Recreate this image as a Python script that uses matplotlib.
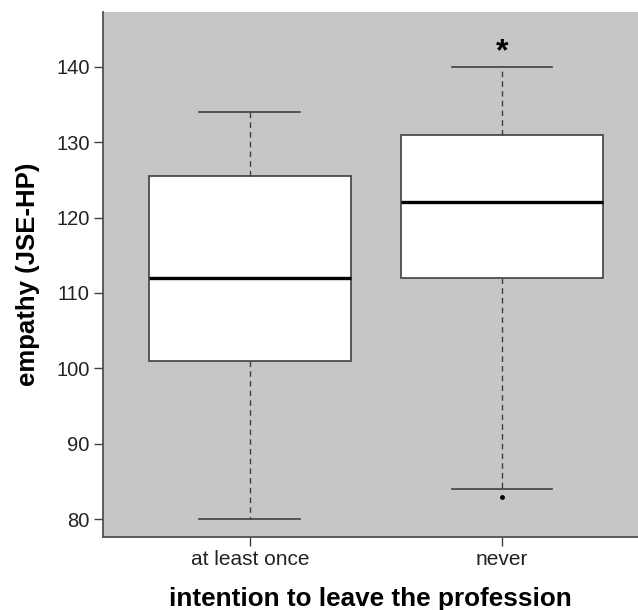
import matplotlib
matplotlib.use('Agg')
import matplotlib.pyplot as plt

# box summary values
groups = ['at least once', 'never']
whisker_low = [80, 84]
q1 = [101, 112]
median = [112, 122]
q3 = [125.5, 131]
whisker_high = [134, 140]
outliers = [[], [83]]
star_group = 2
star_y = 141.9

plt.rcParams['font.family'] = ['Liberation Sans', 'DejaVu Sans']

fig = plt.figure(figsize=(6.38, 6.10), dpi=100)
ax = fig.add_axes([0.1614, 0.1197, 0.8386, 0.8606])
ax.set_facecolor('#c6c6c6')

stats = []
for i, name in enumerate(groups):
    stats.append(dict(label=name, whislo=whisker_low[i], q1=q1[i], med=median[i],
                      q3=q3[i], whishi=whisker_high[i], fliers=outliers[i]))

ax.bxp(stats, positions=[1, 2], widths=0.8, patch_artist=True, showfliers=True,
       boxprops=dict(facecolor='white', edgecolor='#404040', linewidth=1.2),
       medianprops=dict(color='black', linewidth=2.4),
       whiskerprops=dict(color='#404040', linewidth=1.0, linestyle=(0, (4, 3))),
       capprops=dict(color='#404040', linewidth=1.2),
       capwidths=0.4,
       flierprops=dict(marker='o', markersize=2.5, markerfacecolor='black',
                       markeredgecolor='black'))

ax.text(star_group, star_y, '*', ha='center', va='center', fontsize=23,
        fontweight='bold', color='black')

ax.set_xlim(0.417, 2.54)
ax.set_ylim(77.65, 147.25)
ax.set_yticks([80, 90, 100, 110, 120, 130, 140])
ax.tick_params(axis='both', direction='out', length=6.5, width=1.0,
               color='#404040', labelsize=14.5, labelcolor='#222222', pad=3)
ax.tick_params(axis='x', labelsize=15)

for side in ['left', 'bottom']:
    ax.spines[side].set_color('#505050')
    ax.spines[side].set_linewidth(1.3)
for side in ['top', 'right']:
    ax.spines[side].set_visible(False)

ax.set_ylabel('empathy (JSE-HP)', fontsize=18.5, fontweight='bold', labelpad=12)
ax.set_xlabel('intention to leave the profession', fontsize=18.8, fontweight='bold',
              labelpad=13)

fig.savefig('out.png', dpi=100, facecolor='white')
